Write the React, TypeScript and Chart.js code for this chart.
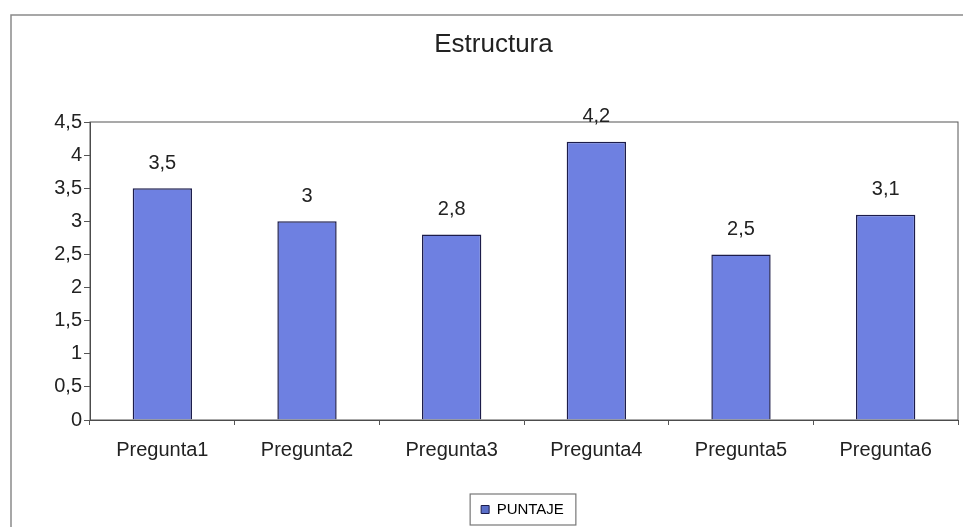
import React, { useEffect, useRef } from "react";
import { Chart, registerables } from "chart.js";

Chart.register(...registerables);

const categories = ["Pregunta1", "Pregunta2", "Pregunta3", "Pregunta4", "Pregunta5", "Pregunta6"];
const puntaje = [3.5, 3, 2.8, 4.2, 2.5, 3.1];
const seriesName = "PUNTAJE";
const chartTitle = "Estructura";
const yMin = 0;
const yMax = 4.5;
const yStep = 0.5;

const FONT = "'Liberation Sans', Arial, sans-serif";
const fmt = (v: number) => String(v).replace(".", ",");

const decorPlugin = {
  id: "decor",
  afterLayout(chart: any) {
    const lg = chart.legend;
    if (lg) {
      const d = 29;
      lg.left += d;
      lg.right += d;
    }
  },
  beforeDraw(chart: any) {
    const ctx = chart.ctx;
    ctx.save();
    ctx.fillStyle = "#ffffff";
    ctx.fillRect(0, 0, chart.width, chart.height);
    // outer frame
    ctx.strokeStyle = "#8a8a8a";
    ctx.lineWidth = 1.5;
    ctx.beginPath();
    ctx.moveTo(11, chart.height);
    ctx.lineTo(11, 15);
    ctx.lineTo(chart.width, 15);
    ctx.stroke();
    ctx.restore();
  },
  afterDatasetsDraw(chart: any) {
    const ctx = chart.ctx;
    const ca = chart.chartArea;
    ctx.save();
    // plot area border
    ctx.strokeStyle = "#555";
    ctx.lineWidth = 1;
    ctx.strokeRect(ca.left, ca.top, ca.right - ca.left, ca.bottom - ca.top);
    // data labels
    const meta = chart.getDatasetMeta(0);
    const data = chart.data.datasets[0].data as number[];
    ctx.fillStyle = "#222";
    ctx.font = `20px ${FONT}`;
    ctx.textAlign = "center";
    ctx.textBaseline = "middle";
    meta.data.forEach((el: any, i: number) => {
      ctx.fillText(fmt(data[i]), el.x, el.y - 25);
    });
    ctx.restore();
  },
  afterDraw(chart: any) {
    const lg = chart.legend;
    if (!lg || !lg.legendHitBoxes || !lg.legendHitBoxes.length) return;
    const hb = lg.legendHitBoxes[0];
    const ctx = chart.ctx;
    ctx.save();
    ctx.strokeStyle = "#777";
    ctx.lineWidth = 1.2;
    ctx.strokeRect(hb.left - 11, hb.top - 8, hb.width + 23, hb.height + 16);
    ctx.restore();
  },
};

export default function App() {
  const ref = useRef<HTMLCanvasElement | null>(null);
  useEffect(() => {
    if (!ref.current) return;
    const chart = new Chart(ref.current, {
      type: "bar",
      data: {
        labels: categories,
        datasets: [
          {
            label: seriesName,
            data: puntaje,
            backgroundColor: "rgb(110,128,225)",
            borderColor: "#1c1c4a",
            borderWidth: 1.5,
            categoryPercentage: 1,
            barPercentage: 0.41,
          },
        ],
      },
      options: {
        responsive: false,
        animation: false,
        layout: { padding: { left: 29, right: 5, top: 10, bottom: 0 } },
        plugins: {
          title: {
            display: true,
            text: chartTitle,
            color: "#222",
            font: { family: FONT, size: 26, weight: "normal" },
            padding: { top: 19.4, bottom: 61.4 },
          },
          legend: {
            display: true,
            position: "bottom",
            labels: {
              boxWidth: 8,
              boxHeight: 8,
              padding: 8,
              color: "#333",
              font: { family: FONT, size: 15 },
              generateLabels: (c: any) => [
                {
                  text: seriesName,
                  fillStyle: "rgb(90,110,200)",
                  strokeStyle: "#1c1c4a",
                  lineWidth: 1,
                  datasetIndex: 0,
                  hidden: false,
                },
              ],
            },
          },
          tooltip: { enabled: false },
        },
        scales: {
          x: {
            afterFit: (s: any) => {
              s.height = 74;
            },
            grid: {
              display: true,
              drawOnChartArea: false,
              drawTicks: true,
              tickLength: 5,
              color: "#555",
              offset: true,
            },
            border: { display: true, color: "#444", width: 1 },
            ticks: {
              color: "#222",
              padding: 13,
              font: { family: FONT, size: 20 },
              maxRotation: 0,
            },
          },
          y: {
            min: yMin,
            max: yMax,
            afterFit: (s: any) => {
              s.width = 61;
            },
            grid: {
              display: true,
              drawOnChartArea: false,
              drawTicks: true,
              tickLength: 6,
              color: "#555",
            },
            border: { display: true, color: "#444", width: 1 },
            ticks: {
              stepSize: yStep,
              color: "#222",
              padding: 2,
              font: { family: FONT, size: 20 },
              callback: (v: any) => fmt(Number(v)),
            },
          },
        },
      },
      plugins: [decorPlugin],
    });
    return () => chart.destroy();
  }, []);
  return (
    <div style={{ position: "fixed", left: 0, top: 0, width: 963, height: 527, background: "#fff" }}>
      <canvas ref={ref} width={963} height={527} />
    </div>
  );
}
